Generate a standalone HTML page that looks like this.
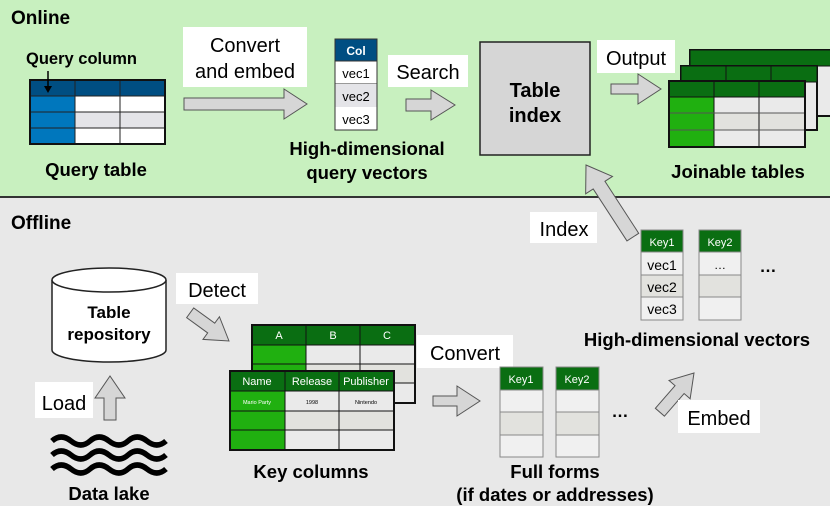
<!DOCTYPE html>
<html><head><meta charset="utf-8"><style>
html,body{margin:0;padding:0;background:#e8e8e8}
svg{display:block}
text{font-family:"Liberation Sans",Arial,sans-serif;fill:#000}
.b{font-weight:bold}
</style></head><body>
<svg width="830" height="506" viewBox="0 0 830 506" xmlns="http://www.w3.org/2000/svg">
<rect x="0" y="0" width="830" height="197" fill="#c8f0bf"/>
<rect x="0" y="197" width="830" height="309" fill="#e8e8e8"/>
<line x1="0" y1="197" x2="830" y2="197" stroke="#333" stroke-width="2"/>

<text x="11" y="24" class="b" font-size="19">Online</text>
<text x="11" y="229" class="b" font-size="19">Offline</text>

<!-- Query table -->
<text x="26" y="64" class="b" font-size="16.5">Query column</text>
<g stroke="#222" stroke-width="1">
<rect x="30" y="80" width="135" height="16" fill="#004e82"/>
<rect x="30" y="96" width="45" height="48" fill="#0077bd"/>
<rect x="75" y="96" width="90" height="16" fill="#fff"/>
<rect x="75" y="112" width="90" height="16" fill="#e4e4e8"/>
<rect x="75" y="128" width="90" height="16" fill="#fff"/>
<line x1="75" y1="80" x2="75" y2="144"/><line x1="120" y1="80" x2="120" y2="144"/>
<line x1="30" y1="112" x2="75" y2="112"/><line x1="30" y1="128" x2="75" y2="128"/>
</g>
<rect x="30" y="80" width="135" height="64" fill="none" stroke="#111" stroke-width="2"/>
<line x1="48" y1="71" x2="48" y2="88" stroke="#000" stroke-width="1.5"/>
<polygon points="44,86 52,86 48,93" fill="#000"/>
<text x="96" y="176" class="b" font-size="18.5" text-anchor="middle">Query table</text>

<!-- Convert and embed -->
<rect x="183" y="27" width="124" height="60" fill="#fff"/>
<text x="245" y="52" font-size="20" text-anchor="middle">Convert</text>
<text x="245" y="78" font-size="20" text-anchor="middle">and embed</text>
<polygon points="184,98 284,98 284,89 307,104 284,119 284,110 184,110" fill="#d6d6d6" stroke="#555" stroke-width="1"/>

<!-- Col vectors -->
<g stroke="#333" stroke-width="1">
<rect x="335" y="39" width="42" height="22" fill="#004e82"/>
<rect x="335" y="61" width="42" height="23" fill="#fff"/>
<rect x="335" y="84" width="42" height="23" fill="#e4e4e8" stroke="none"/>
<rect x="335" y="107" width="42" height="23" fill="#fff" stroke="none"/>
<rect x="335" y="39" width="42" height="91" fill="none"/>
</g>
<text x="356" y="55" class="b" font-size="12" text-anchor="middle" style="fill:#fff">Col</text>
<text x="356" y="78" font-size="13" text-anchor="middle">vec1</text>
<text x="356" y="101" font-size="13" text-anchor="middle">vec2</text>
<text x="356" y="124" font-size="13" text-anchor="middle">vec3</text>
<text x="367" y="155" class="b" font-size="18.5" text-anchor="middle">High-dimensional</text>
<text x="367" y="179" class="b" font-size="18.5" text-anchor="middle">query vectors</text>

<!-- Search -->
<rect x="388" y="55" width="80" height="32" fill="#fff"/>
<text x="428" y="79" font-size="20" text-anchor="middle">Search</text>
<polygon points="406,99 431,99 431,90 455,105 431,120 431,111 406,111" fill="#d6d6d6" stroke="#555" stroke-width="1"/>

<!-- Table index -->
<rect x="480" y="42" width="110" height="113" fill="#d6d6d6" stroke="#222" stroke-width="1.5"/>
<text x="535" y="97" class="b" font-size="20" text-anchor="middle">Table</text>
<text x="535" y="122" class="b" font-size="20" text-anchor="middle">index</text>

<!-- Output -->
<rect x="597" y="40" width="78" height="33" fill="#fff"/>
<text x="636" y="65" font-size="20" text-anchor="middle">Output</text>
<polygon points="611,84 638,84 638,74 661,89 638,104 638,94 611,94" fill="#d6d6d6" stroke="#555" stroke-width="1"/>

<!-- Joinable tables -->
<g stroke="#111" stroke-width="1">
<rect x="690" y="50" width="145" height="66" fill="#eaeaea" stroke-width="2"/>
<rect x="690" y="50" width="145" height="16" fill="#0a6e12"/>
<rect x="681" y="66" width="136" height="64" fill="#eaeaea" stroke-width="2"/>
<rect x="681" y="66" width="136" height="16" fill="#0a6e12"/>
<line x1="726" y1="66" x2="726" y2="130"/><line x1="771" y1="66" x2="771" y2="130"/>
<rect x="669" y="81" width="136" height="66" fill="#eaeaea" stroke-width="2"/>
<rect x="669" y="81" width="136" height="16" fill="#0a6e12"/>
<rect x="669" y="97" width="45" height="50" fill="#20b010"/>
<rect x="714" y="113" width="91" height="17" fill="#e2e2de"/>
<line x1="714" y1="81" x2="714" y2="147"/><line x1="759" y1="81" x2="759" y2="147"/>
<line x1="669" y1="113" x2="805" y2="113" stroke="#555"/><line x1="669" y1="130" x2="805" y2="130" stroke="#555"/>
<rect x="669" y="81" width="136" height="66" fill="none" stroke-width="2"/>
</g>
<text x="738" y="178" class="b" font-size="18.5" text-anchor="middle">Joinable tables</text>

<!-- Index arrow -->
<rect x="530" y="212" width="67" height="31" fill="#fff"/>
<text x="564" y="236" font-size="20" text-anchor="middle">Index</text>
<g transform="translate(586,165) rotate(57)">
<polygon points="0,0 -24,-16 -24,-7 -86,-7 -86,7 -24,7 -24,16" transform="scale(-1,1)" fill="#d6d6d6" stroke="#555" stroke-width="1"/>
</g>

<!-- High-dim vectors -->
<g stroke="#888" stroke-width="1">
<rect x="641" y="230" width="42" height="22" fill="#0a6e12"/>
<rect x="641" y="252" width="42" height="23" fill="#f0f0f0"/>
<rect x="641" y="275" width="42" height="22" fill="#e2e2de"/>
<rect x="641" y="297" width="42" height="23" fill="#f0f0f0"/>
<rect x="699" y="230" width="42" height="22" fill="#0a6e12"/>
<rect x="699" y="252" width="42" height="23" fill="#f0f0f0"/>
<rect x="699" y="275" width="42" height="22" fill="#e2e2de"/>
<rect x="699" y="297" width="42" height="23" fill="#f0f0f0"/>
</g>
<text x="662" y="246" font-size="11" text-anchor="middle" style="fill:#fff">Key1</text>
<text x="720" y="246" font-size="11" text-anchor="middle" style="fill:#fff">Key2</text>
<text x="662" y="270" font-size="14" text-anchor="middle">vec1</text>
<text x="662" y="292" font-size="14" text-anchor="middle">vec2</text>
<text x="662" y="314" font-size="14" text-anchor="middle">vec3</text>
<text x="720" y="269" font-size="12" text-anchor="middle">…</text>
<text x="768" y="272" font-size="17" text-anchor="middle" class="b">…</text>
<text x="697" y="346" class="b" font-size="18.5" text-anchor="middle">High-dimensional vectors</text>

<!-- Cylinder -->
<path d="M52,280 L52,350 A57,12 0 0 0 166,350 L166,280" fill="#fff" stroke="#222" stroke-width="1.5"/>
<ellipse cx="109" cy="280" rx="57" ry="12" fill="#fff" stroke="#222" stroke-width="1.5"/>
<text x="109" y="318" class="b" font-size="17" text-anchor="middle">Table</text>
<text x="109" y="340" class="b" font-size="17" text-anchor="middle">repository</text>

<!-- Detect -->
<rect x="176" y="273" width="82" height="31" fill="#fff"/>
<text x="217" y="297" font-size="20" text-anchor="middle">Detect</text>
<g transform="translate(229,341) rotate(36)">
<polygon points="0,0 -22,-14 -22,-6 -48,-6 -48,6 -22,6 -22,14" fill="#d6d6d6" stroke="#555" stroke-width="1"/>
</g>

<!-- Load -->
<rect x="35" y="382" width="58" height="36" fill="#fff"/>
<text x="64" y="410" font-size="20" text-anchor="middle">Load</text>
<polygon points="104,420 104,398 95,398 110,376 125,398 116,398 116,420" fill="#d6d6d6" stroke="#555" stroke-width="1"/>

<!-- Waves -->
<g fill="none" stroke="#000" stroke-width="5.5">
<path d="M52,441 q9,-8 19,0 t19,0 t19,0 t19,0 t19,0 t19,0"/>
<path d="M52,455 q9,-8 19,0 t19,0 t19,0 t19,0 t19,0 t19,0"/>
<path d="M52,469 q9,-8 19,0 t19,0 t19,0 t19,0 t19,0 t19,0"/>
</g>
<text x="109" y="500" class="b" font-size="18.5" text-anchor="middle">Data lake</text>

<!-- Key columns tables -->
<g stroke="#111" stroke-width="1">
<rect x="252" y="325" width="163" height="78" fill="#eaeaea" stroke-width="2"/>
<rect x="252" y="325" width="163" height="20" fill="#0a6e12"/>
<rect x="252" y="345" width="54" height="58" fill="#20b010"/>
<rect x="306" y="364" width="109" height="19" fill="#e2e2de"/>
<line x1="306" y1="325" x2="306" y2="403"/><line x1="360" y1="325" x2="360" y2="403"/>
<line x1="252" y1="364" x2="415" y2="364"/><line x1="252" y1="383" x2="415" y2="383"/>
<rect x="252" y="325" width="163" height="78" fill="none" stroke-width="2"/>
<rect x="230" y="371" width="164" height="79" fill="#eaeaea" stroke-width="2"/>
<rect x="230" y="371" width="164" height="20" fill="#0a6e12"/>
<rect x="230" y="391" width="55" height="59" fill="#20b010"/>
<rect x="285" y="411" width="109" height="19" fill="#e2e2de"/>
<line x1="285" y1="371" x2="285" y2="450"/><line x1="339" y1="371" x2="339" y2="450"/>
<line x1="230" y1="411" x2="394" y2="411"/><line x1="230" y1="430" x2="394" y2="430"/>
<rect x="230" y="371" width="164" height="79" fill="none" stroke-width="2"/>
</g>
<g font-size="11" text-anchor="middle">
<text x="279" y="339" style="fill:#fff">A</text>
<text x="333" y="339" style="fill:#fff">B</text>
<text x="387" y="339" style="fill:#fff">C</text>
<text x="257" y="385" style="fill:#fff">Name</text>
<text x="312" y="385" style="fill:#fff">Release</text>
<text x="366" y="385" style="fill:#fff">Publisher</text>
<text x="257" y="404" font-size="5.5" style="fill:#fff">Mario Party</text>
<text x="312" y="404" font-size="5.5">1998</text>
<text x="366" y="404" font-size="5.5">Nintendo</text>
</g>
<text x="311" y="478" class="b" font-size="18.5" text-anchor="middle">Key columns</text>

<!-- Convert offline -->
<rect x="417" y="335" width="96" height="33" fill="#fff"/>
<text x="465" y="360" font-size="20" text-anchor="middle">Convert</text>
<polygon points="433,396 457,396 457,386 480,401 457,416 457,406 433,406" fill="#d6d6d6" stroke="#555" stroke-width="1"/>

<g stroke="#888" stroke-width="1">
<rect x="500" y="367" width="43" height="23" fill="#0a6e12"/>
<rect x="500" y="390" width="43" height="22" fill="#f0f0f0"/>
<rect x="500" y="412" width="43" height="23" fill="#e2e2de"/>
<rect x="500" y="435" width="43" height="22" fill="#f0f0f0"/>
<rect x="556" y="367" width="43" height="23" fill="#0a6e12"/>
<rect x="556" y="390" width="43" height="22" fill="#f0f0f0"/>
<rect x="556" y="412" width="43" height="23" fill="#e2e2de"/>
<rect x="556" y="435" width="43" height="22" fill="#f0f0f0"/>
</g>
<text x="521" y="383" font-size="11" text-anchor="middle" style="fill:#fff">Key1</text>
<text x="577" y="383" font-size="11" text-anchor="middle" style="fill:#fff">Key2</text>
<text x="620" y="417" font-size="17" text-anchor="middle" class="b">…</text>
<text x="555" y="478" class="b" font-size="18.5" text-anchor="middle">Full forms</text>
<text x="555" y="501" class="b" font-size="18.5" text-anchor="middle">(if dates or addresses)</text>

<!-- Embed -->
<g transform="translate(694,373) rotate(-49)">
<polygon points="0,0 -22,-14 -22,-6 -52,-6 -52,6 -22,6 -22,14" fill="#d6d6d6" stroke="#555" stroke-width="1"/>
</g>
<rect x="678" y="400" width="82" height="33" fill="#fff"/>
<text x="719" y="425" font-size="20" text-anchor="middle">Embed</text>
</svg>
</body></html>
